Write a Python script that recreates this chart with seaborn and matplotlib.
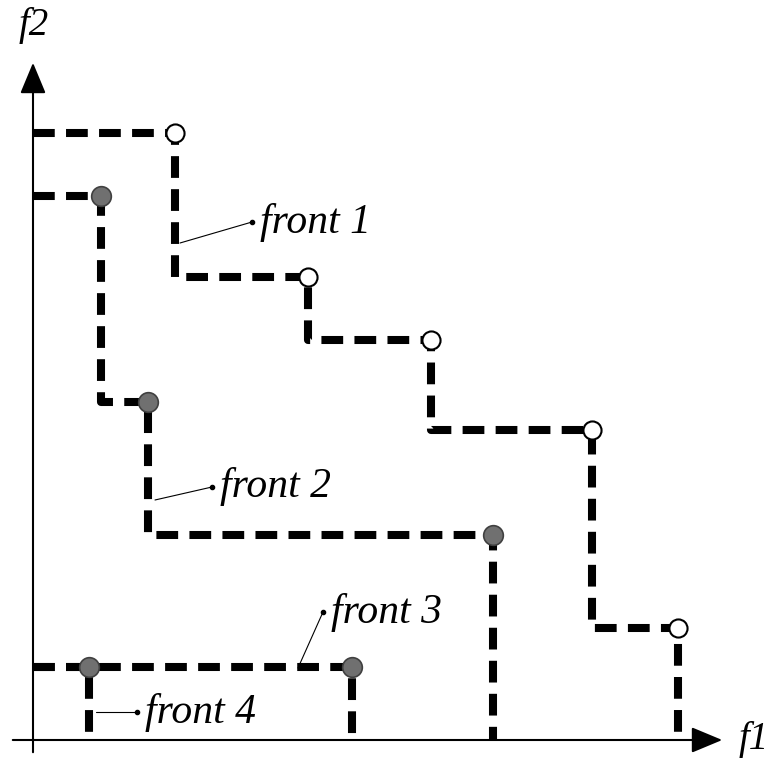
import matplotlib
matplotlib.use("Agg")
import numpy as np
import pandas as pd
import matplotlib.pyplot as plt
import seaborn as sns

# pareto fronts (f1, f2) - points at step corners
front1_f1 = [142, 275, 398, 559, 645]
front1_f2 = [607, 463, 400, 310, 112]
front2_f1 = [68, 115, 460]
front2_f2 = [544, 338, 205]
front3_f1 = [319]
front3_f2 = [73]
front4_f1 = [56]
front4_f2 = [73]

labels = ["front 1", "front 2", "front 3", "front 4"]
# label text anchor and pointer start on the step line
label_pos = [(229, 518), (189, 253), (300, 128), (114, 28)]
pointer_from = [(147, 497), (122, 240), (265, 72), (63, 28)]


def step_path(xs, ys):
    px, py = [0], [ys[0]]
    for i in range(len(xs)):
        px.append(xs[i]); py.append(ys[i])
        nxt = ys[i + 1] if i + 1 < len(ys) else 0
        px.append(xs[i]); py.append(nxt)
    return px, py


sns.set_style("white")
plt.rcParams['font.family'] = ['Liberation Serif', 'DejaVu Serif']
plt.rcParams['text.color'] = 'black'

fig = plt.figure(figsize=(7.71, 7.59), dpi=100)
ax = fig.add_axes([0, 0, 1, 1])
ax.set_xlim(-33, 738)
ax.set_ylim(-19, 740)
ax.axis("off")

# axes with arrows
ax.annotate("", xy=(692, 0), xytext=(-23, 0),
            arrowprops=dict(arrowstyle="-|>,head_length=0.6,head_width=0.25",
                            lw=1.5, color="black", mutation_scale=32))
ax.annotate("", xy=(0, 680), xytext=(0, -15),
            arrowprops=dict(arrowstyle="-|>,head_length=0.6,head_width=0.25",
                            lw=1.5, color="black", mutation_scale=32))
ax.text(706, 0, "f1", fontsize=28, style="italic", va="center", ha="left")
ax.text(-14, 715, "f2", fontsize=28, style="italic", va="center", ha="left")

fronts = [(front1_f1, front1_f2), (front2_f1, front2_f2),
          (front3_f1, front3_f2), (front4_f1, front4_f2)]

for xs, ys in fronts:
    px, py = step_path(xs, ys)
    df = pd.DataFrame({"f1": px, "f2": py})
    sns.lineplot(data=df, x="f1", y="f2", sort=False, estimator=None,
                 errorbar=None, ax=ax, color="black",
                 lw=5.8, linestyle=(0, (2.7, 1.4)), solid_capstyle="butt",
                 dash_capstyle="butt", zorder=2)

sns.scatterplot(x=front1_f1, y=front1_f2, ax=ax, s=170, color="white",
                edgecolor="black", linewidth=1.5, zorder=3)
gray_x = front2_f1 + front3_f1 + front4_f1
gray_y = front2_f2 + front3_f2 + front4_f2
sns.scatterplot(x=gray_x, y=gray_y, ax=ax, s=200, color="#707070",
                edgecolor="#404040", linewidth=1.2, zorder=3)

for lab, (tx, ty), (sx, sy) in zip(labels, label_pos, pointer_from):
    ax.plot([sx, tx - 10], [sy, ty], color="black", lw=0.8, zorder=2)
    ax.plot([tx - 10], [ty], "o", color="black", ms=3, zorder=2)
    ax.text(tx - 2, ty, lab, fontsize=30, style="italic", va="center", ha="left")

plt.savefig("out.png", dpi=100)
